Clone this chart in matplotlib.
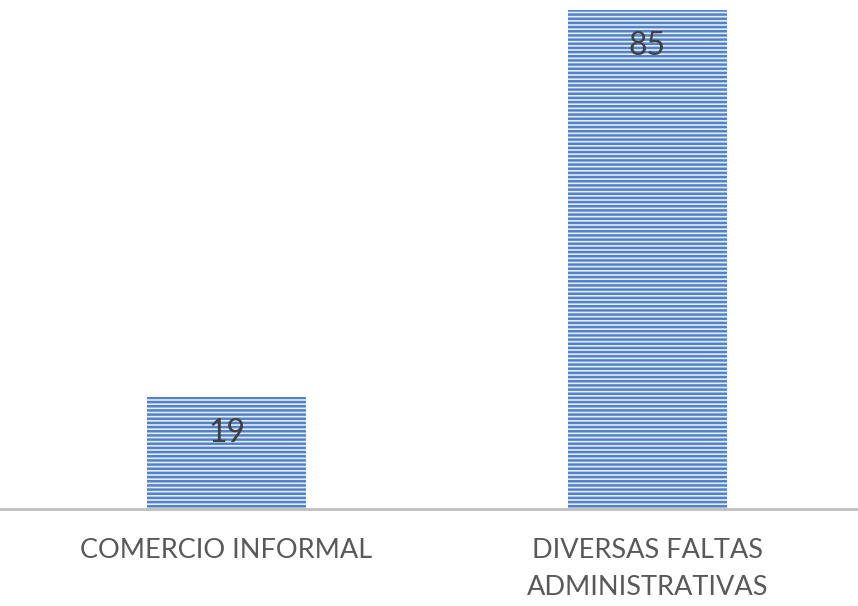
import matplotlib.pyplot as plt
import numpy as np

categorias = ['COMERCIO INFORMAL', 'DIVERSAS FALTAS\nADMINISTRATIVAS']
valores = [19, 85]

plt.rcParams['font.family'] = ['Lato', 'DejaVu Sans']
plt.rcParams['hatch.linewidth'] = 1.8

fig = plt.figure(figsize=(8.58, 6.06), dpi=100)
ax = fig.add_axes([0, 0.16, 1, 0.84])

x = np.arange(len(categorias))
barras = ax.bar(x, valores, width=0.378, color='#e4ecf7', edgecolor='#5283c9',
                linewidth=0, hatch='----', zorder=2)

# etiquetas de valor dentro de la barra, cerca del extremo
for b, v in zip(barras, valores):
    ax.text(b.get_x() + b.get_width() / 2, v - 6.1, str(v), ha='center', va='center',
            fontsize=23, color='#404040', zorder=3)

ax.set_xlim(-0.538, 1.5)
ax.set_ylim(0, 86.7)
ax.set_yticks([])
ax.set_xticks(x)
ax.set_xticklabels(categorias, fontsize=19.5, color='#595959', linespacing=1.6)
ax.tick_params(axis='x', length=0, pad=21)

for s in ['top', 'right', 'left']:
    ax.spines[s].set_visible(False)
ax.spines['bottom'].set_color('#bfbfbf')
ax.spines['bottom'].set_linewidth(2)

fig.savefig('out.png', dpi=100, facecolor='white')
